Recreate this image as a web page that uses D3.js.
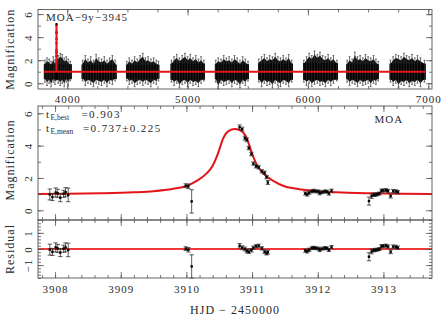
<!DOCTYPE html>
<html>
<head>
<meta charset="utf-8">
<script src="https://cdn.jsdelivr.net/npm/d3@7"></script>
<style>
  body { margin: 0; background: #fff; }
  text { font-family: "Liberation Serif", "Times New Roman", serif; fill: #2a2a2a; letter-spacing: 1px; }
  .tick text { font-size: 11px; }
</style>
</head>
<body>
<svg id="chart" width="447" height="323"></svg>
<script>
// ---------- data ----------
// observing seasons of the 9-year survey (HJD-2450000) and the dense part of each blob
const seasonStart = [3806, 4120, 4488, 4859, 5227, 5585, 5959, 6319, 6679];
const seasonEnd   = [4037, 4410, 4765, 5144, 5510, 5876, 6250, 6590, 6978];
const seasonLo    = [0.35, 0.35, 0.4, 0.3, 0.35, 0.3, 0.3, 0.35, 0.3];
const seasonHi    = [1.65, 1.6, 1.6, 1.7, 1.65, 1.7, 1.75, 1.65, 1.7];

// error bars sticking out of the seasonal blobs: [HJD, low, high]
const seasonBars = [
  [3815, 0.1, 2.0], [3832, -0.2, 2.2], [3850, 0.0, 2.1], [3866, -0.3, 1.9], [3884, 0.1, 2.3], [3898, -0.1, 2.0],
  [3925, 0.0, 2.4], [3942, -0.2, 2.6], [3958, 0.0, 2.5], [3975, -0.3, 2.2], [3992, 0.1, 2.3], [4008, -0.2, 2.1], [4025, 0.2, 1.9],
  [4128, 0.2, 2.0], [4150, -0.2, 2.4], [4172, 0.0, 2.1], [4195, -0.1, 2.3], [4218, -0.3, 2.0], [4240, 0.0, 2.5], [4262, -0.1, 2.2],
  [4285, -0.2, 2.1], [4308, 0.0, 2.3], [4330, -0.3, 2.0], [4352, 0.0, 2.2], [4375, -0.1, 2.4], [4398, 0.2, 2.0],
  [4495, 0.2, 1.9], [4515, -0.1, 2.2], [4538, 0.0, 2.0], [4560, -0.3, 2.3], [4582, -0.1, 2.1], [4605, 0.0, 2.4], [4628, -0.2, 2.6],
  [4650, 0.0, 2.2], [4672, -0.1, 2.3], [4695, -0.3, 2.1], [4718, 0.0, 2.2], [4740, -0.1, 2.0], [4758, 0.2, 1.9],
  [4866, 0.1, 2.0], [4888, -0.2, 2.3], [4910, 0.0, 2.5], [4932, -0.4, 2.2], [4955, -0.1, 2.4], [4978, 0.0, 2.6], [5000, -0.3, 2.3],
  [5022, 0.0, 2.5], [5045, -0.2, 2.2], [5068, -0.1, 2.4], [5090, -0.3, 2.1], [5112, 0.0, 2.3], [5135, 0.2, 2.0],
  [5234, 0.1, 2.0], [5255, -0.5, 2.2], [5278, 0.0, 2.1], [5300, -0.2, 2.4], [5322, -0.1, 2.2], [5345, 0.0, 2.3], [5368, -0.3, 2.1],
  [5390, 0.0, 2.4], [5412, -0.1, 2.2], [5435, -0.4, 2.0], [5458, 0.0, 2.3], [5480, -0.2, 2.1], [5502, 0.2, 1.9],
  [5592, 0.1, 2.1], [5615, -0.3, 2.3], [5638, 0.0, 2.5], [5660, -0.2, 2.2], [5682, -0.1, 2.4], [5705, -0.4, 2.3], [5728, 0.0, 2.6],
  [5750, -0.2, 2.3], [5772, -0.3, 2.2], [5795, 0.0, 2.4], [5818, -0.1, 2.2], [5840, -0.3, 2.5], [5865, 0.1, 2.0],
  [5966, 0.1, 2.0], [5988, -0.2, 2.3], [6010, 0.0, 2.6], [6032, -0.3, 2.4], [6055, -0.1, 2.8], [6078, 0.0, 2.5], [6100, -0.2, 2.7],
  [6122, -0.1, 2.4], [6145, -0.3, 2.3], [6168, 0.0, 2.5], [6190, -0.2, 2.2], [6212, 0.0, 2.4], [6240, 0.2, 2.0],
  [6326, 0.1, 2.0], [6346, -0.2, 2.3], [6368, 0.0, 2.1], [6390, -0.1, 2.7], [6412, -0.3, 2.3], [6434, 0.0, 2.4], [6456, -0.2, 2.2],
  [6478, -0.1, 2.5], [6500, 0.0, 2.3], [6522, -0.3, 2.2], [6545, 0.0, 2.4], [6565, -0.1, 2.1], [6584, 0.2, 1.9],
  [6686, 0.1, 2.0], [6708, -0.2, 2.3], [6730, 0.0, 2.5], [6752, -0.4, 2.4], [6775, -0.1, 2.3], [6798, -0.2, 2.6], [6820, 0.0, 2.4],
  [6842, -0.3, 2.3], [6865, -0.1, 2.5], [6888, -0.2, 2.2], [6910, 0.0, 2.4], [6935, -0.3, 2.2], [6968, 0.1, 2.0]
];

// MOA data around the event
const obsT = [3907.92, 3907.96, 3908.01, 3908.04, 3908.08, 3908.13, 3908.16, 3908.20,
  3909.99, 3910.03, 3910.08,
  3910.81, 3910.85, 3910.89, 3910.92, 3910.95, 3910.99, 3911.02, 3911.06, 3911.10, 3911.15, 3911.19, 3911.22, 3911.24,
  3911.81, 3911.84, 3911.87, 3911.91, 3911.94, 3911.97, 3912.01, 3912.03, 3912.07, 3912.11, 3912.14, 3912.17, 3912.21,
  3912.78, 3912.82, 3912.85, 3912.88, 3912.91, 3912.94, 3912.97, 3913.00, 3913.04, 3913.07, 3913.11, 3913.15, 3913.19, 3913.22];
const obsMag = [0.98, 0.82, 1.10, 1.05, 0.78, 1.02, 1.12, 0.95,
  1.52, 1.48, 0.55,
  5.14, 5.02, 4.46, 4.36, 3.85, 3.48, 2.89, 2.72, 2.66, 2.41, 2.32, 2.05, 1.72,
  1.04, 0.98, 1.09, 1.17, 1.21, 1.17, 1.17, 1.06, 1.12, 1.17, 1.15, 1.04, 1.21,
  0.57, 0.88, 0.96, 0.96, 1.00, 1.04, 1.21, 1.23, 1.25, 1.19, 0.88, 1.19, 1.17, 1.12];
const obsErr = [0.34, 0.22, 0.28, 0.25, 0.25, 0.22, 0.28, 0.42,
  0.12, 0.14, 0.72,
  0.14, 0.12, 0.12, 0.12, 0.11, 0.11, 0.10, 0.10, 0.10, 0.10, 0.10, 0.10, 0.12,
  0.10, 0.10, 0.10, 0.09, 0.09, 0.09, 0.09, 0.10, 0.09, 0.09, 0.09, 0.10, 0.10,
  0.25, 0.14, 0.10, 0.10, 0.09, 0.09, 0.10, 0.09, 0.09, 0.10, 0.12, 0.10, 0.10, 0.10];
const obsRes = [-0.04, -0.18, 0.10, 0.03, -0.22, 0.02, 0.10, -0.06,
  0.02, -0.05, -1.08,
  0.20, 0.08, 0.00, -0.12, -0.17, -0.08, 0.08, 0.17, 0.20, 0.04, -0.17, -0.27, -0.20,
  -0.10, -0.15, -0.05, 0.05, 0.08, 0.05, 0.03, -0.06, 0.02, 0.06, 0.04, -0.06, 0.12,
  -0.48, -0.16, -0.08, -0.06, -0.04, 0.00, 0.17, 0.19, 0.21, 0.15, -0.17, 0.15, 0.13, 0.08];

// best-fit model
const modelT = [3907.74, 3908.2, 3908.7, 3909.2, 3909.5, 3909.8, 3910.0, 3910.15, 3910.3, 3910.4, 3910.48, 3910.56,
  3910.64, 3910.74, 3910.84, 3910.92, 3911.0, 3911.08, 3911.18, 3911.33, 3911.48, 3911.68, 3911.98, 3912.28,
  3912.78, 3913.28, 3913.74];
const modelMag = [1.01, 1.02, 1.05, 1.11, 1.18, 1.33, 1.50, 1.80, 2.25, 2.75, 3.50, 4.45,
  4.90, 5.03, 4.90, 4.45, 3.50, 2.75, 2.25, 1.80, 1.50, 1.33, 1.18, 1.11,
  1.05, 1.02, 1.01];
const baselineSpan = [3806, 6978];
const baselineMag = 1.0;

const topTicks = [4000, 5000, 6000, 7000];
const hjdTicks = [3908, 3909, 3910, 3911, 3912, 3913];

// ---------- layout ----------
const svg = d3.select("#chart");
const L = 38, R = 432;
const frameColor = "#555";
const red = "#e3151a";

const xTop = d3.scaleLinear().domain([3757, 7031]).range([L, R]);
const yTop = d3.scaleLinear().domain([-0.5, 6.4]).range([89, 9.5]);
const xHjd = d3.scaleLinear().domain([3907.74, 3913.74]).range([L, R]);
const yMid = d3.scaleLinear().domain([-0.6, 6.45]).range([220, 106]);
const yRes = d3.scaleLinear().domain([-1.8, 1.8]).range([278, 220]);

const range = (a, b, s) => d3.range(Math.round(a / s), Math.round(b / s) + 1).map(i => +(i * s).toFixed(4));

function drawFrame(x, y, o) {
  const [x0, x1] = x.range();
  const [y0, y1] = y.range();
  const g = svg.append("g");
  const add = (axis, tf) => {
    const a = g.append("g").attr("transform", tf).call(axis);
    a.select(".domain").remove();
    a.selectAll("line").attr("stroke", frameColor).attr("stroke-width", 0.8);
    return a;
  };
  const xMin = o.xMinor.filter(v => v >= x.domain()[0] && v <= x.domain()[1]);
  const yMin = o.yMinor.filter(v => v >= y.domain()[0] && v <= y.domain()[1]);
  add(d3.axisBottom(x).tickValues(xMin).tickSize(-3).tickFormat(""), `translate(0,${y0})`);
  add(d3.axisTop(x).tickValues(xMin).tickSize(-3).tickFormat(""), `translate(0,${y1})`);
  add(d3.axisTop(x).tickValues(o.xMajor).tickSize(-6).tickFormat(""), `translate(0,${y1})`);
  add(d3.axisBottom(x).tickValues(o.xMajor).tickSize(-6).tickPadding(o.xPad || 7)
      .tickFormat(o.xLabels ? d3.format("d") : ""), `translate(0,${y0})`);
  add(d3.axisRight(y).tickValues(yMin).tickSize(-3).tickFormat(""), `translate(${x1},0)`);
  add(d3.axisRight(y).tickValues(o.yMajor).tickSize(-6).tickFormat(""), `translate(${x1},0)`);
  add(d3.axisLeft(y).tickValues(yMin).tickSize(-3).tickFormat(""), `translate(${x0},0)`);
  const ly = add(d3.axisLeft(y).tickValues(o.yMajor).tickSize(-6).tickFormat(d3.format("d")), `translate(${x0},0)`);
  ly.selectAll("text")
    .attr("x", 0).attr("y", -6.5).attr("dy", null)
    .attr("text-anchor", "middle")
    .attr("transform", "rotate(-90)");
  g.append("rect")
    .attr("x", x0).attr("y", y1).attr("width", x1 - x0).attr("height", y0 - y1)
    .attr("fill", "none").attr("stroke", frameColor).attr("stroke-width", 0.9);
}

function errorBars(g, x, y, ts, vs, es, cap) {
  const d = ts.map((t, i) => ({ t, v: vs[i], e: es[i] }));
  const bars = g.append("g").attr("stroke", "#333").attr("stroke-width", 0.8);
  bars.selectAll(".eb").data(d).join("line")
    .attr("x1", p => x(p.t)).attr("x2", p => x(p.t))
    .attr("y1", p => y(p.v - p.e)).attr("y2", p => y(p.v + p.e));
  [-1, 1].forEach(s => {
    bars.selectAll(null).data(d).join("line")
      .attr("x1", p => x(p.t) - cap).attr("x2", p => x(p.t) + cap)
      .attr("y1", p => y(p.v + s * p.e)).attr("y2", p => y(p.v + s * p.e));
  });
  g.append("g").selectAll("rect").data(d).join("rect")
    .attr("x", p => x(p.t) - 1.2).attr("y", p => y(p.v) - 1.2)
    .attr("width", 2.4).attr("height", 2.4).attr("fill", "#000");
}

// ---------- top panel: full 9-year light curve ----------
const topG = svg.append("g");
// ragged envelope of each season, following its error bars
const blobArea = d3.area().curve(d3.curveLinear)
  .x(d => xTop(d[0])).y0(d => yTop(d[1])).y1(d => yTop(d[2]));
seasonStart.forEach((s, i) => {
  const bars = seasonBars.filter(b => b[0] >= s && b[0] <= seasonEnd[i]);
  const env = [[s, seasonLo[i], seasonHi[i]]]
    .concat(bars.map(b => [b[0], b[1] + 0.3, b[2] - 0.3]))
    .concat([[seasonEnd[i], seasonLo[i], seasonHi[i]]]);
  topG.append("path").datum(env).attr("d", blobArea).attr("fill", "#111");
  topG.append("rect")
    .attr("x", xTop(s)).attr("width", xTop(seasonEnd[i]) - xTop(s))
    .attr("y", yTop(seasonHi[i])).attr("height", yTop(seasonLo[i]) - yTop(seasonHi[i]))
    .attr("fill", "#000");
});
const wb = topG.append("g").attr("stroke", "#333").attr("stroke-width", 0.7);
wb.selectAll(".w").data(seasonBars).join("line")
  .attr("x1", d => xTop(d[0])).attr("x2", d => xTop(d[0]))
  .attr("y1", d => yTop(d[1])).attr("y2", d => yTop(d[2]));
[1, 2].forEach(k => {
  wb.selectAll(null).data(seasonBars).join("line")
    .attr("x1", d => xTop(d[0]) - 0.9).attr("x2", d => xTop(d[0]) + 0.9)
    .attr("y1", d => yTop(d[k])).attr("y2", d => yTop(d[k]));
});
topG.append("g").selectAll("rect").data(obsT).join("rect")
  .attr("x", (t) => xTop(t) - 1).attr("y", (t, i) => yTop(obsMag[i]) - 1)
  .attr("width", 2).attr("height", 2).attr("fill", "#000");

const topModel = [[baselineSpan[0], baselineMag]]
  .concat(modelT.map((t, i) => [t, modelMag[i]]))
  .concat([[baselineSpan[1], baselineMag]]);
topG.append("path").datum(topModel)
  .attr("d", d3.line().x(d => xTop(d[0])).y(d => yTop(d[1])))
  .attr("fill", "none").attr("stroke", red).attr("stroke-width", 2);

drawFrame(xTop, yTop, {
  xMajor: topTicks, xMinor: range(3750, 7000, 250), xLabels: true, xPad: 6,
  yMajor: [0, 2, 4, 6], yMinor: range(0, 6, 1)
});
svg.append("text").attr("x", 46).attr("y", 20.7).style("font-size", "11px").text("MOA\u22129y\u22123945");

// ---------- middle panel: zoom on the event ----------
const midG = svg.append("g");
midG.append("path").datum(modelT.map((t, i) => [t, modelMag[i]]))
  .attr("d", d3.line().curve(d3.curveMonotoneX).x(d => xHjd(d[0])).y(d => yMid(d[1])))
  .attr("fill", "none").attr("stroke", red).attr("stroke-width", 2);
errorBars(midG, xHjd, yMid, obsT, obsMag, obsErr, 2.2);
drawFrame(xHjd, yMid, {
  xMajor: hjdTicks, xMinor: range(3907.8, 3913.6, 0.2), xLabels: false,
  yMajor: [0, 2, 4, 6], yMinor: range(0, 6, 1)
});
svg.append("text").attr("x", 374.5).attr("y", 123.3).style("font-size", "11px").text("MOA");

const tEbest = svg.append("text").attr("x", 46).attr("y", 117.5)
  .style("font-size", "11px").style("letter-spacing", "1.4px");
tEbest.append("tspan").text("t");
tEbest.append("tspan").attr("dy", 2).style("font-size", "7.5px").style("letter-spacing", "0px").text("E,best");
tEbest.append("tspan").attr("dy", -2).attr("x", 81.5).text("=0.903");
const tEmean = svg.append("text").attr("x", 46).attr("y", 131.5)
  .style("font-size", "11px").style("letter-spacing", "1.4px");
tEmean.append("tspan").text("t");
tEmean.append("tspan").attr("dy", 2.5).style("font-size", "7.5px").style("letter-spacing", "0px").text("E,mean");
tEmean.append("tspan").attr("dy", -2.5).attr("x", 83).text("=0.737\u00b10.225");

// ---------- residual panel ----------
const resG = svg.append("g");
resG.append("line")
  .attr("x1", L).attr("x2", R).attr("y1", yRes(0)).attr("y2", yRes(0))
  .attr("stroke", "#f03a3a").attr("stroke-width", 2.2);
errorBars(resG, xHjd, yRes, obsT, obsRes, obsErr, 2.2);
drawFrame(xHjd, yRes, {
  xMajor: hjdTicks, xMinor: range(3907.8, 3913.6, 0.2), xLabels: true, xPad: 7,
  yMajor: [-1, 0, 1], yMinor: range(-1.8, 1.8, 0.2)
});

// ---------- axis titles ----------
svg.append("text").attr("transform", `translate(13.5,${(9.5 + 89) / 2}) rotate(-90)`)
  .attr("text-anchor", "middle").style("font-size", "12px").text("Magnification");
svg.append("text").attr("transform", `translate(13.5,160) rotate(-90)`)
  .attr("text-anchor", "middle").style("font-size", "12px").text("Magnification");
svg.append("text").attr("transform", `translate(13.5,249) rotate(-90)`)
  .attr("text-anchor", "middle").style("font-size", "12px").text("Residual");
svg.append("text").attr("x", (L + R) / 2).attr("y", 314)
  .attr("text-anchor", "middle").style("font-size", "12px").text("HJD \u2212 2450000");
</script>
</body>
</html>
